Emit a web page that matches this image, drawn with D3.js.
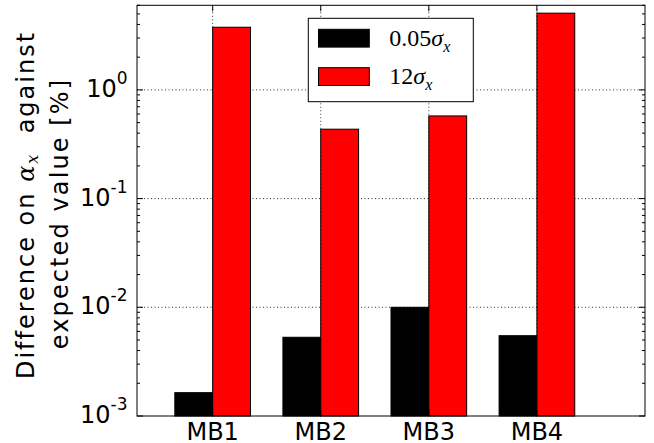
<!DOCTYPE html>
<html>
<head>
<meta charset="utf-8">
<script src="https://cdn.jsdelivr.net/npm/d3@7"></script>
<style>
  html, body { margin: 0; padding: 0; background: #fff; }
  svg { display: block; }
  text { font-family: "DejaVu Sans", sans-serif; fill: #000; }
</style>
</head>
<body>
<svg id="chart" width="654" height="443"></svg>
<script>
// Relative difference on alpha_x for each magnet block, two beam sizes
const categories = ["MB1", "MB2", "MB3", "MB4"];
const seriesNames = ["0.05", "12"];
const smallSigma = [0.00164, 0.0053, 0.0100, 0.00548];
const largeSigma = [3.77, 0.435, 0.576, 5.08];
const yTickValues = [1e-3, 1e-2, 1e-1, 1e0];
const yTickExponents = ["-3", "-2", "-1", "0"];
const seriesColors = ["#000000", "#ff0000"];

const svg = d3.select("#chart");
const plotL = 137, plotR = 645, plotT = 5.3, plotB = 416;
const barW = 0.35;

const x = d3.scaleLinear().domain([-0.35, 4.35]).range([plotL, plotR]);
const y = d3.scaleLog().domain([1e-3, 6]).range([plotB, plotT]);

// dotted grid below the bars
const grid = svg.append("g");
grid.selectAll("line.gy").data(yTickValues.slice(1)).enter().append("line")
  .attr("x1", plotL).attr("x2", plotR)
  .attr("y1", d => y(d)).attr("y2", d => y(d))
  .attr("stroke", "#000").attr("stroke-width", 0.8).attr("stroke-dasharray", "1,2.5");
grid.selectAll("line.gx").data(categories).enter().append("line")
  .attr("x1", (d, i) => x(i + barW)).attr("x2", (d, i) => x(i + barW))
  .attr("y1", plotT).attr("y2", plotB)
  .attr("stroke", "#000").attr("stroke-width", 0.8).attr("stroke-dasharray", "1,2.5");

// bars
const series = [smallSigma, largeSigma];
series.forEach((vals, s) => {
  svg.append("g").selectAll("rect").data(vals).enter().append("rect")
    .attr("x", (d, i) => x(i + s * barW))
    .attr("width", x(barW) - x(0))
    .attr("y", d => y(d))
    .attr("height", d => plotB - y(d))
    .attr("fill", seriesColors[s])
    .attr("stroke", "#000").attr("stroke-width", 1);
});

// frame
svg.append("rect").attr("x", plotL).attr("y", plotT)
  .attr("width", plotR - plotL).attr("height", plotB - plotT)
  .attr("fill", "none").attr("stroke", "#000").attr("stroke-width", 1);

// y ticks (major + minor), inside on both sides
const minor = [];
[1e-3, 1e-2, 1e-1, 1].forEach(dec => {
  for (let k = 2; k <= 9; k++) { const v = dec * k; if (v <= 6) minor.push(v); }
});
const ticks = svg.append("g").attr("stroke", "#000").attr("stroke-width", 1);
[[plotL, 1], [plotR, -1]].forEach(([x0, dir]) => {
  ticks.selectAll(null).data(yTickValues).enter().append("line")
    .attr("x1", x0).attr("x2", x0 + dir * 6)
    .attr("y1", d => y(d)).attr("y2", d => y(d));
  ticks.selectAll(null).data(minor).enter().append("line")
    .attr("x1", x0).attr("x2", x0 + dir * 3)
    .attr("y1", d => y(d)).attr("y2", d => y(d));
});
// x ticks, inside top and bottom
[[plotB, -1], [plotT, 1]].forEach(([y0, dir]) => {
  ticks.selectAll(null).data(categories).enter().append("line")
    .attr("x1", (d, i) => x(i + barW)).attr("x2", (d, i) => x(i + barW))
    .attr("y1", y0).attr("y2", y0 + dir * 6);
});

// y tick labels 10^n
const yl = svg.append("g");
yTickValues.forEach((v, i) => {
  const t = yl.append("text")
    .attr("x", 127.5).attr("y", y(v) + 7)
    .attr("text-anchor", "end").style("font-size", "24px");
  t.append("tspan").text("10");
  t.append("tspan").attr("dy", -13).style("font-size", "17px").text(yTickExponents[i]);
});

// x tick labels
svg.append("g").selectAll("text").data(categories).enter().append("text")
  .attr("x", (d, i) => x(i + barW)).attr("y", 440)
  .attr("text-anchor", "middle").style("font-size", "24px")
  .text(d => d);

// y axis title, two lines
const line1 = svg.append("text")
  .attr("transform", "translate(34.3,205) rotate(-90)")
  .attr("text-anchor", "middle").style("font-size", "24px")
  .style("letter-spacing", "2px");
line1.append("tspan").text("Difference on\u00a0");
line1.append("tspan").style("font-family", "'DejaVu Serif', serif").style("font-style", "italic").text("α");
line1.append("tspan").attr("dy", 4).style("font-family", "'DejaVu Serif', serif").style("font-style", "italic").style("font-size", "16px").text("x");
line1.append("tspan").attr("dy", -4).text("\u00a0 against");

svg.append("text")
  .attr("transform", "translate(67.5,213.5) rotate(-90)")
  .attr("text-anchor", "middle").style("font-size", "24px")
  .style("letter-spacing", "2.1px")
  .text("expected value [%]");

// legend
const lg = svg.append("g");
lg.append("rect").attr("x", 308.3).attr("y", 18.3).attr("width", 165).attr("height", 83.4)
  .attr("fill", "#fff").attr("stroke", "#000").attr("stroke-width", 1);
const rowsY = [29.3, 67.7];
const textY = [46, 84];
seriesNames.forEach((name, i) => {
  lg.append("rect").attr("x", 318.5).attr("y", rowsY[i]).attr("width", 50.8).attr("height", 17.8)
    .attr("fill", seriesColors[i]).attr("stroke", "#000").attr("stroke-width", 1);
  const t = lg.append("text").attr("x", 389.3).attr("y", textY[i])
    .style("font-family", "'Liberation Serif', 'DejaVu Serif', serif").style("font-size", "24px");
  t.append("tspan").text(name);
  t.append("tspan").style("font-style", "italic").text("σ");
  t.append("tspan").attr("dy", 6).style("font-style", "italic").style("font-size", "16px").text("x");
});
</script>
</body>
</html>
